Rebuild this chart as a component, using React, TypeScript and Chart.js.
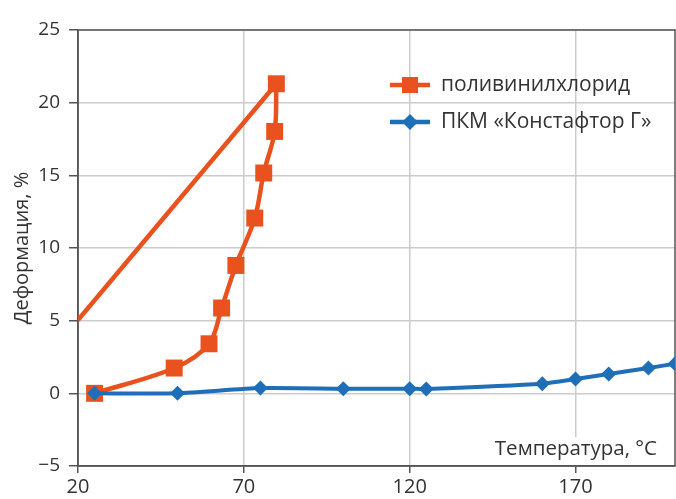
import React, { useEffect, useRef } from 'react';
import { Chart, registerables } from 'chart.js';

Chart.register(...registerables);

// ---- data ----
const pvcTemp = [25, 49, 59.5, 63.3, 67.6, 73.3, 76, 79.3, 79.8];
const pvcDef = [0, 1.74, 3.41, 5.87, 8.8, 12.06, 15.16, 18.02, 21.3];
const pvcReturnTemp = [79.8, 20];
const pvcReturnDef = [21.3, 5.05];
const pkmTemp = [25, 50, 75, 100, 120, 125, 160, 170, 180, 192, 200];
const pkmDef = [0, 0, 0.36, 0.32, 0.32, 0.3, 0.66, 0.98, 1.33, 1.74, 2.04];
const xTicks = [20, 70, 120, 170];
const yTicks = [-5, 0, 5, 10, 15, 20, 25];
const seriesNames = ['поливинилхлорид', 'ПКМ «Констафтор Г»'];
const xTitle = 'Температура, °C';
const yTitle = 'Деформация, %';

const ORANGE = '#E9521E';
const BLUE = '#1E6EB8';
const AXIS = '#555555';
const GRID = '#cccccc';
const TEXT = '#333333';
const FONT = '"Open Sans", "Noto Sans", sans-serif';

const toPts = (xs: number[], ys: number[]) => xs.map((x, i) => ({ x, y: ys[i] }));

const decorPlugin = {
  id: 'decor',
  beforeDatasetsDraw(chart: any) {
    const { ctx, chartArea: a } = chart;
    ctx.save();
    ctx.font = `20.5px ${FONT}`;
    const w = ctx.measureText(xTitle).width;
    const tx = a.right - 18 - w;
    ctx.fillStyle = '#ffffff';
    ctx.fillRect(tx - 6, a.bottom - 29, w + 12, 28);
    ctx.fillStyle = TEXT;
    ctx.textBaseline = 'alphabetic';
    ctx.textAlign = 'left';
    ctx.fillText(xTitle, tx, a.bottom - 11);
    ctx.strokeStyle = AXIS;
    ctx.lineWidth = 1.5;
    ctx.strokeRect(a.left, a.top, a.right - a.left, a.bottom - a.top);
    ctx.restore();
  },
  afterDatasetsDraw(chart: any) {
    const { ctx, chartArea: a } = chart;
    ctx.save();
    const x0 = a.left + 312;
    const rows = [
      { label: seriesNames[0], color: ORANGE, style: 'rect', y: a.top + 55 },
      { label: seriesNames[1], color: BLUE, style: 'diamond', y: a.top + 92 },
    ];
    rows.forEach((r) => {
      ctx.strokeStyle = r.color;
      ctx.fillStyle = r.color;
      ctx.lineWidth = 4.5;
      ctx.beginPath();
      ctx.moveTo(x0, r.y);
      ctx.lineTo(x0 + 40, r.y);
      ctx.stroke();
      const cx = x0 + 20;
      if (r.style === 'rect') {
        ctx.fillRect(cx - 8, r.y - 8, 16, 16);
      } else {
        ctx.beginPath();
        ctx.moveTo(cx - 8, r.y);
        ctx.lineTo(cx, r.y - 8);
        ctx.lineTo(cx + 8, r.y);
        ctx.lineTo(cx, r.y + 8);
        ctx.closePath();
        ctx.fill();
      }
      ctx.fillStyle = TEXT;
      ctx.font = `21px ${FONT}`;
      ctx.textBaseline = 'middle';
      ctx.textAlign = 'left';
      ctx.fillText(r.label, x0 + 51, r.y);
    });
    ctx.restore();
  },
};

export default function App() {
  const ref = useRef<HTMLCanvasElement | null>(null);

  useEffect(() => {
    if (!ref.current) return;
    const chart = new Chart(ref.current, {
      type: 'line',
      data: {
        datasets: [
          {
            label: seriesNames[1],
            data: toPts(pkmTemp, pkmDef),
            borderColor: BLUE,
            backgroundColor: BLUE,
            borderWidth: 4,
            pointStyle: 'rectRot',
            pointRadius: 7.5,
            pointBorderWidth: 0,
            tension: 0.2,
            order: 0,
            clip: 0,
          },
          {
            label: seriesNames[0],
            data: toPts(pvcTemp, pvcDef),
            borderColor: ORANGE,
            backgroundColor: ORANGE,
            borderWidth: 4.5,
            pointStyle: 'rect',
            pointRadius: 12,
            pointBorderWidth: 0,
            tension: 0.35,
            order: 1,
            clip: 0,
          },
          {
            label: 'return',
            data: toPts(pvcReturnTemp, pvcReturnDef),
            borderColor: ORANGE,
            backgroundColor: ORANGE,
            borderWidth: 4.5,
            pointRadius: 0,
            tension: 0,
            order: 2,
            clip: 0,
          },
        ],
      },
      options: {
        responsive: false,
        animation: false,
        layout: { autoPadding: false, padding: { top: 30, right: 1, left: 0, bottom: 0 } },
        plugins: {
          legend: { display: false },
          tooltip: { enabled: false },
        },
        scales: {
          x: {
            type: 'linear',
            min: 20,
            max: 200,
            afterBuildTicks: (axis: any) => {
              axis.ticks = xTicks.map((v) => ({ value: v }));
            },
            afterFit: (axis: any) => {
              axis.height = 33;
              axis.paddingLeft = 0;
              axis.paddingRight = 0;
            },
            ticks: {
              color: TEXT,
              font: { family: FONT, size: 20 },
              padding: 2,
              maxRotation: 0,
            },
            grid: {
              color: GRID,
              lineWidth: 1.5,
              tickColor: AXIS,
              tickLength: 7,
            },
            border: { color: AXIS, width: 1.5 },
          },
          y: {
            type: 'linear',
            min: -5,
            max: 25,
            afterBuildTicks: (axis: any) => {
              axis.ticks = yTicks.map((v) => ({ value: v }));
            },
            afterFit: (axis: any) => {
              axis.width = 78;
              axis.paddingTop = 0;
              axis.paddingBottom = 0;
            },
            ticks: {
              color: TEXT,
              font: { family: FONT, size: 19 },
              padding: 9,
              callback: (v: any) => String(v).replace('-', '\u2212'),
            },
            grid: {
              color: GRID,
              lineWidth: 1.5,
              tickColor: AXIS,
              tickLength: 9,
            },
            border: { color: AXIS, width: 1.5 },
            title: {
              display: true,
              text: yTitle,
              color: TEXT,
              font: { family: FONT, size: 20 },
              padding: { top: 10, bottom: 0 },
            },
          },
        },
      },
      plugins: [decorPlugin],
    } as any);
    return () => chart.destroy();
  }, []);

  return (
    <div style={{ position: 'absolute', left: 0, top: 0, width: 676, height: 499, background: '#fff' }}>
      <canvas ref={ref} width={676} height={499} />
    </div>
  );
}
